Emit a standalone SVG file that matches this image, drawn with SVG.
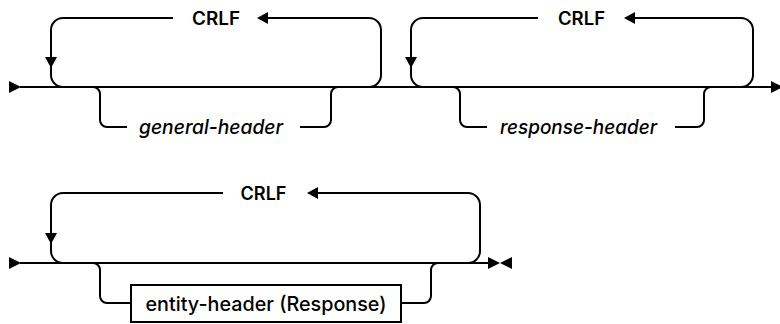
<svg xmlns="http://www.w3.org/2000/svg" width="780" height="324" viewBox="0 0 780 324">
<style>
.ln{fill:none;stroke:#000;stroke-width:2}
.ah{fill:#000;stroke:none}
.kw{font-family:Inter,"Liberation Sans",Arial,sans-serif;font-size:18px;font-weight:600;text-anchor:middle;fill:#000}
.var{font-family:Inter,"Liberation Sans",Arial,sans-serif;font-size:20px;font-weight:500;font-style:italic;text-anchor:middle;fill:#000}
.nt{font-family:Inter,"Liberation Sans",Arial,sans-serif;font-size:20px;font-weight:500;text-anchor:middle;fill:#000}
.box{fill:#fff;stroke:#000;stroke-width:2}
</style>
<g id="connectors">
<path class="ln" d="M 20 87 L 772 87"/>
<polygon class="ah" points="9,81 21,87 9,93"/>
<polygon class="ah" points="771,81 783,87 771,93"/>
<path class="ln" d="M 369 87 A 12 12 0 0 0 381 75 L 381 30 A 12 12 0 0 0 369 18 L 266 18"/>
<polygon class="ah" points="268,12 257,18 268,24"/>
<path class="ln" d="M 173 18 L 63 18 A 12 12 0 0 0 51 30 L 51 75 A 12 12 0 0 0 63 87"/>
<polygon class="ah" points="45,57 57,57 51,68"/>
<path class="ln" d="M 93 87 A 7 7 0 0 1 100 94 L 100 120 A 7 7 0 0 0 107 127 L 127 127"/>
<path class="ln" d="M 300 127 L 324 127 A 7 7 0 0 0 331 120 L 331 94 A 7 7 0 0 1 338 87"/>
<path class="ln" d="M 741 87 A 12 12 0 0 0 753 75 L 753 30 A 12 12 0 0 0 741 18 L 633 18"/>
<polygon class="ah" points="635,12 624,18 635,24"/>
<path class="ln" d="M 538 18 L 423 18 A 12 12 0 0 0 411 30 L 411 75 A 12 12 0 0 0 423 87"/>
<polygon class="ah" points="405,57 417,57 411,68"/>
<path class="ln" d="M 453 87 A 7 7 0 0 1 460 94 L 460 120 A 7 7 0 0 0 467 127 L 487 127"/>
<path class="ln" d="M 675 127 L 697 127 A 7 7 0 0 0 704 120 L 704 94 A 7 7 0 0 1 711 87"/>
<path class="ln" d="M 20 263 L 489 263"/>
<polygon class="ah" points="9,257 21,263 9,269"/>
<polygon class="ah" points="488,257 500,263 488,269"/>
<polygon class="ah" points="512,257 500,263 512,269"/>
<path class="ln" d="M 468 263 A 12 12 0 0 0 480 251 L 480 205 A 12 12 0 0 0 468 193 L 316 193"/>
<polygon class="ah" points="318,187 307,193 318,199"/>
<path class="ln" d="M 223 193 L 63 193 A 12 12 0 0 0 51 205 L 51 251 A 12 12 0 0 0 63 263"/>
<polygon class="ah" points="45,233 57,233 51,244"/>
<path class="ln" d="M 93 263 A 7 7 0 0 1 100 270 L 100 296 A 7 7 0 0 0 107 303 L 131 303"/>
<path class="ln" d="M 401 303 L 424 303 A 7 7 0 0 0 431 296 L 431 270 A 7 7 0 0 1 438 263"/>
</g>
<g id="crlf1"><text class="kw" x="216" y="24.5" textLength="48" lengthAdjust="spacingAndGlyphs">CRLF</text></g>
<g id="general-header"><text class="var" x="211" y="134" textLength="144" lengthAdjust="spacingAndGlyphs">general-header</text></g>
<g id="crlf2"><text class="kw" x="581.5" y="24.5" textLength="47" lengthAdjust="spacingAndGlyphs">CRLF</text></g>
<g id="response-header"><text class="var" x="578.5" y="134" textLength="157" lengthAdjust="spacingAndGlyphs">response-header</text></g>
<g id="crlf3"><text class="kw" x="263.5" y="199.5" textLength="46" lengthAdjust="spacingAndGlyphs">CRLF</text></g>
<g id="entity-header">
<rect class="box" x="131" y="285" width="270" height="37"/>
<text class="nt" x="266" y="310.5" textLength="241" lengthAdjust="spacingAndGlyphs">entity-header (Response)</text>
</g>
</svg>
